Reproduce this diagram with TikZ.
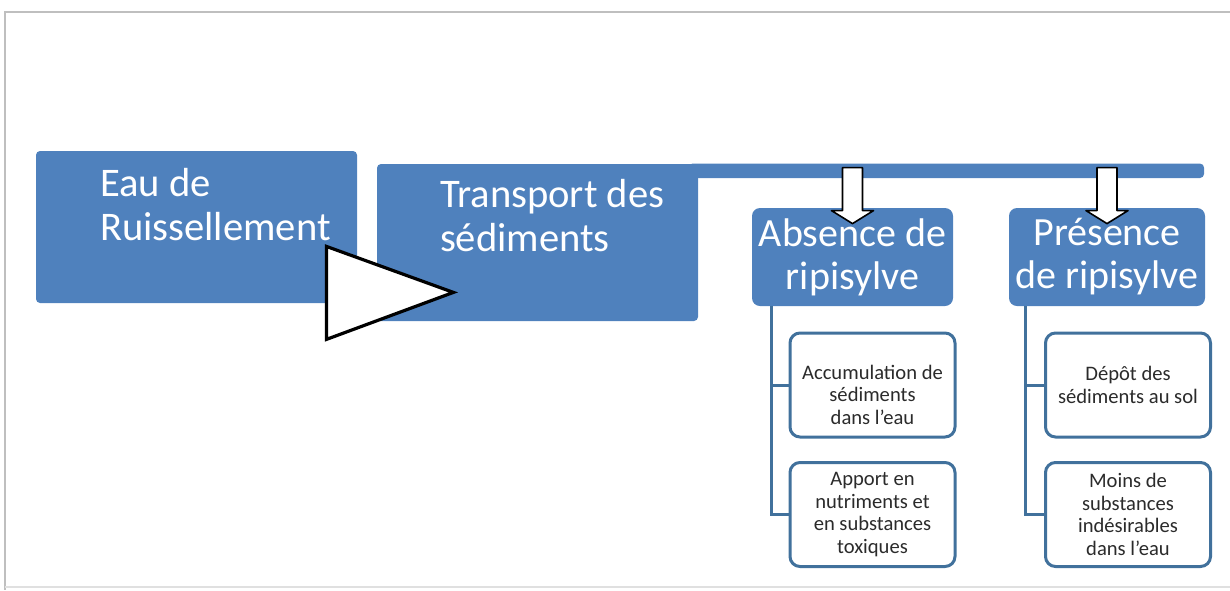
\documentclass[tikz,border=0pt]{standalone}
\usepackage{fontspec}
\setmainfont{Carlito}
\usetikzlibrary{calc}
\definecolor{officeblue}{HTML}{4F81BD}
\definecolor{linkblue}{HTML}{41719C}
\definecolor{subtext}{HTML}{2B2B2B}

\begin{document}
\begin{tikzpicture}[x=0.5pt,y=-0.5pt,
    bluebox/.style={rectangle,fill=officeblue,rounded corners=2pt,inner sep=0pt},
    headtext/.style={text=white,font=\fontsize{20.3}{22}\selectfont,inner sep=0pt,align=left,anchor=north west},
    sidetext/.style={text=white,font=\fontsize{20}{21.5}\selectfont,align=center},
    subbox/.style={rectangle,draw=linkblue,line width=1.5pt,fill=white,rounded corners=5pt,
      minimum width=82.5pt,minimum height=52pt,inner sep=0pt,text=subtext,
      font=\fontsize{10.3}{11.2}\selectfont,align=center},
    treeline/.style={draw=linkblue,line width=1.5pt},
    whitearrow/.style={draw=black,fill=white,line width=0.8pt,line join=round}]
  \useasboundingbox (0,0) rectangle (1230,590);
  % frame of the slide
  \draw[black!25,line width=1pt] (1230,12) -- (5,12) -- (5,590);
  \draw[black!12,line width=1pt] (5,587) -- (1230,587);

  % main chain
  \node[bluebox,minimum width=160.5pt,minimum height=76pt] (eau) at (196.5,227) {};
  \node[headtext] (eautxt) at ($(eau.north west)+(64,17)$) {Eau de\\Ruissellement};
  \node[bluebox,minimum width=160.5pt,minimum height=78.5pt] (trans) at (537.5,242.5) {};
  \fill[officeblue,rounded corners=2pt] ($(trans.north east)+(-10,0)$) rectangle (1204,178);
  \node[headtext] (transtxt) at ($(trans.north west)+(63,15)$) {Transport des\\sédiments};

  % two cases
  \node[bluebox,rounded corners=4pt,minimum width=100.5pt,minimum height=49pt,sidetext] (abs) at (852.5,257) {Absence de\\ripisylve};
  \node[bluebox,rounded corners=4pt,minimum width=98pt,minimum height=49pt,sidetext] (pres) at (1107,257) {Présence\\de ripisylve};

  \node[subbox] (acc) at (872.5,385) {\rule{0pt}{17pt}Accumulation de\\sédiments\\dans l’eau};
  \node[subbox] (app) at (872.5,514.5) {Apport en\\nutriments et\\en substances\\toxiques};
  \node[subbox] (dep) at (1128,385) {Dépôt des\\sédiments au sol};
  \node[subbox] (moins) at (1128,514.5) {Moins de\\substances\\indésirables\\dans l’eau};

  \draw[treeline] ($(abs.south west)+(20,0)$) |- (acc.west);
  \draw[treeline] ($(abs.south west)+(20,0)$) |- (app.west);
  \draw[treeline] ($(pres.south west)+(17,0)$) |- (dep.west);
  \draw[treeline] ($(pres.south west)+(17,0)$) |- (moins.west);

  % block arrows from the bar
  \foreach \b in {abs,pres}
    \draw[whitearrow] ($(\b.north)+(-10,-40)$) -- ++(20,0) -- ++(0,43) -- ++(11,0)
      -- ($(\b.north)+(0,16)$) -- ($(\b.north)+(-21,3)$) -- ++(11,0) -- cycle;

  % big triangle
  \draw[whitearrow,line width=1.6pt,line join=miter] ($(eau.south east)+(-31,-57)$)
    -- ($(eau.south east)+(96,-11)$) -- ($(eau.south east)+(-31,36)$) -- cycle;
\end{tikzpicture}
\end{document}
